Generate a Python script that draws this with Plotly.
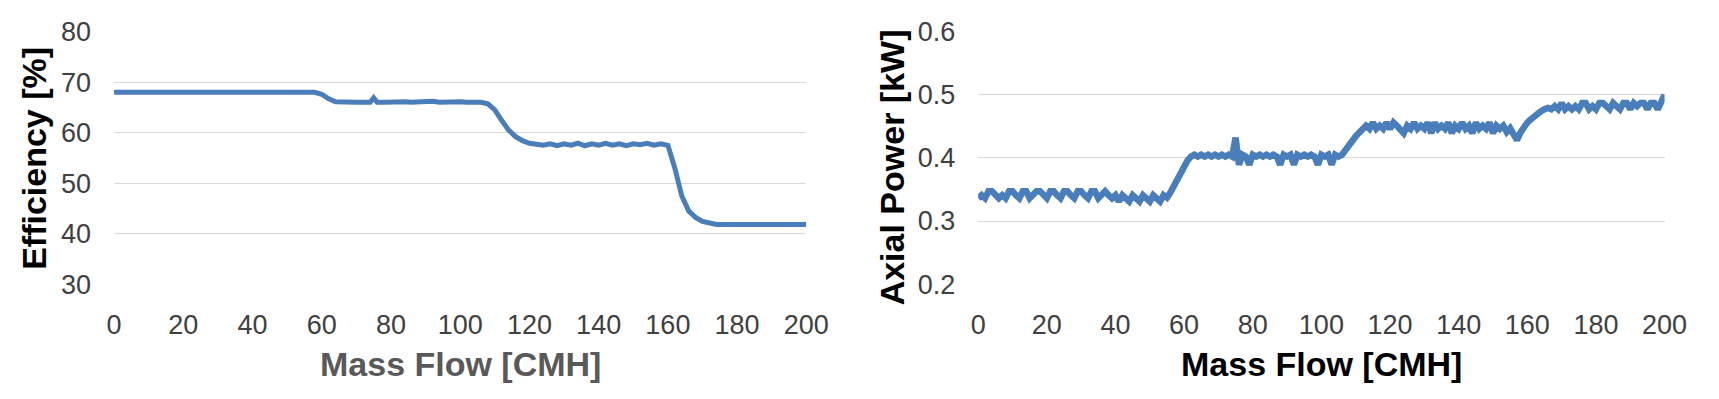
import plotly.graph_objects as go

# ---------------- data ----------------
# Efficiency [%] vs Mass Flow [CMH]
flow_eff = [0, 2, 4, 6, 8, 10, 12, 14, 16, 18, 20, 22, 24, 26, 28, 30, 32, 34, 36, 38,
            40, 42, 44, 46, 48, 50, 52, 54, 56, 58, 60, 62, 64, 66, 68, 70, 72, 74, 75, 76,
            78, 80, 82, 84, 86, 88, 90, 92, 94, 96, 98, 100, 102, 104, 106, 108, 110, 112, 114, 116,
            118, 120, 122, 124, 126, 128, 130, 132, 134, 136, 138, 140, 142, 144, 146, 148, 150, 152, 154, 156,
            158, 160, 162, 164, 166, 168, 170, 172, 174, 176, 180, 184, 188, 192, 196, 200]
efficiency = [68.0, 68.0, 68.0, 68.0, 68.0, 68.0, 68.0, 68.0, 68.0, 68.0, 68.0, 68.0, 68.0, 68.0, 68.0, 68.0, 68.0, 68.0, 68.0, 68.0,
              68.0, 68.0, 68.0, 68.0, 68.0, 68.0, 68.0, 68.0, 68.0, 68.0, 67.6, 66.7, 66.1, 66.0, 66.0, 66.0, 66.0, 66.0, 66.9, 66.0,
              66.0, 66.1, 66.0, 66.1, 66.0, 66.1, 66.0, 66.2, 66.0, 66.1, 66.0, 66.1, 66.0, 66.1, 66.0, 65.7, 64.5, 62.4, 60.5, 59.2,
              58.4, 57.9, 57.7, 57.5, 57.8, 57.4, 57.8, 57.5, 57.9, 57.4, 57.8, 57.5, 57.9, 57.5, 57.8, 57.4, 57.8, 57.6, 57.9, 57.5,
              57.8, 57.5, 53.0, 47.5, 44.5, 43.2, 42.4, 42.0, 41.8, 41.8, 41.8, 41.8, 41.8, 41.8, 41.8, 41.8]

# Axial Power [kW] vs Mass Flow [CMH]
flow_pow = list(range(0, 201))
axial_power = [
    0.336, 0.341, 0.336, 0.347, 0.347, 0.341, 0.336, 0.341, 0.336, 0.347,
    0.347, 0.341, 0.336, 0.347, 0.347, 0.336, 0.341, 0.347, 0.347, 0.341,
    0.336, 0.347, 0.347, 0.341, 0.336, 0.347, 0.347, 0.341, 0.336, 0.347,
    0.347, 0.341, 0.336, 0.347, 0.347, 0.336, 0.341, 0.347, 0.341, 0.336,
    0.341, 0.331, 0.341, 0.336, 0.331, 0.341, 0.336, 0.331, 0.341, 0.336,
    0.331, 0.341, 0.336, 0.331, 0.341, 0.337, 0.345, 0.356, 0.367, 0.379,
    0.389, 0.396, 0.402, 0.405, 0.402, 0.405, 0.402, 0.405, 0.402, 0.405,
    0.402, 0.405, 0.402, 0.405, 0.402, 0.432, 0.389, 0.405, 0.402, 0.389,
    0.405, 0.402, 0.405, 0.402, 0.405, 0.402, 0.405, 0.402, 0.389, 0.405,
    0.402, 0.405, 0.389, 0.405, 0.402, 0.405, 0.402, 0.405, 0.402, 0.389,
    0.405, 0.402, 0.405, 0.389, 0.405, 0.402, 0.405, 0.413, 0.421, 0.428,
    0.434, 0.440, 0.446, 0.451, 0.446, 0.456, 0.446, 0.451, 0.446, 0.456,
    0.446, 0.456, 0.451, 0.446, 0.439, 0.451, 0.446, 0.456, 0.446, 0.451,
    0.446, 0.456, 0.439, 0.456, 0.446, 0.451, 0.446, 0.456, 0.439, 0.451,
    0.446, 0.456, 0.446, 0.451, 0.439, 0.456, 0.446, 0.451, 0.446, 0.456,
    0.439, 0.451, 0.446, 0.451, 0.441, 0.447, 0.438, 0.428, 0.440, 0.450,
    0.456, 0.461, 0.466, 0.470, 0.474, 0.477, 0.479, 0.477, 0.482, 0.477,
    0.487, 0.477, 0.482, 0.477, 0.482, 0.477, 0.487, 0.487, 0.477, 0.482,
    0.477, 0.487, 0.487, 0.482, 0.477, 0.487, 0.482, 0.477, 0.487, 0.487,
    0.477, 0.487, 0.482, 0.487, 0.487, 0.477, 0.487, 0.487, 0.477, 0.487,
    0.500,
]

x_ticks = [0, 20, 40, 60, 80, 100, 120, 140, 160, 180, 200]
eff_ticks = [30, 40, 50, 60, 70, 80]
pow_ticks = [0.2, 0.3, 0.4, 0.5, 0.6]

# ---------------- figure ----------------
W, H = 1719, 399
LINE = "#4a7ebb"
GRID = "#d9d9d9"
FONT = "Liberation Sans, Arial, sans-serif"
TICKC = "#404040"

fig = go.Figure()
fig.add_trace(go.Scatter(x=flow_eff, y=efficiency, mode="lines",
                         line=dict(color=LINE, width=5), xaxis="x", yaxis="y",
                         showlegend=False))
fig.add_trace(go.Scatter(x=flow_pow, y=axial_power, mode="lines",
                         line=dict(color=LINE, width=6.5), xaxis="x2", yaxis="y2",
                         showlegend=False))

def px_x(p):
    return p / W

def px_y(p):
    return (H - p) / H

ydom = [px_y(291), px_y(18)]
common_x = dict(range=[0, 200], tickvals=x_ticks, showgrid=False, zeroline=False,
                showline=False, ticks="", ticklabelstandoff=22,
                tickfont=dict(family=FONT, size=27, color=TICKC), fixedrange=True)
common_y = dict(showgrid=True, gridcolor=GRID, gridwidth=1, zeroline=False,
                showline=False, ticks="", ticklabelstandoff=22,
                tickfont=dict(family=FONT, size=27, color=TICKC), fixedrange=True)

fig.update_layout(
    width=W, height=H,
    margin=dict(l=0, r=0, t=0, b=0),
    paper_bgcolor="white", plot_bgcolor="white",
    xaxis=dict(domain=[px_x(108), px_x(813)], anchor="y", **common_x),
    yaxis=dict(domain=ydom, anchor="x", range=[30, 80], tickvals=eff_ticks, **common_y),
    xaxis2=dict(domain=[px_x(988), px_x(1687)], anchor="y2", **common_x),
    yaxis2=dict(domain=ydom, anchor="x2", range=[0.2, 0.6], tickvals=pow_ticks,
                tickformat=".1f", **common_y),
    annotations=[
        dict(text="<b>Efficiency [%]</b>", textangle=-90, x=px_x(27), y=px_y(155),
             xref="paper", yref="paper", xanchor="center", yanchor="middle",
             showarrow=False, font=dict(family=FONT, size=34, color="#000000")),
        dict(text="<b>Mass Flow [CMH]</b>", x=px_x(460.5), y=px_y(377),
             xref="paper", yref="paper", xanchor="center", yanchor="middle",
             showarrow=False, font=dict(family=FONT, size=34, color="#595959")),
        dict(text="<b>Axial Power [kW]</b>", textangle=-90, x=px_x(900), y=px_y(165),
             xref="paper", yref="paper", xanchor="center", yanchor="middle",
             showarrow=False, font=dict(family=FONT, size=34, color="#000000")),
        dict(text="<b>Mass Flow [CMH]</b>", x=px_x(1338), y=px_y(377),
             xref="paper", yref="paper", xanchor="center", yanchor="middle",
             showarrow=False, font=dict(family=FONT, size=34, color="#000000")),
    ],
)

fig.write_html("out.html", config=dict(displayModeBar=False))
